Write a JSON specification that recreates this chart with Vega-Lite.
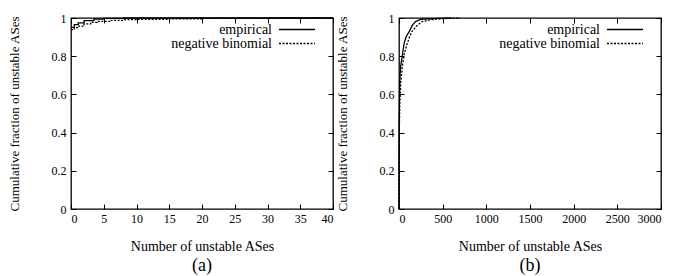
{
  "$schema": "https://vega.github.io/schema/vega-lite/v6.json",
  "padding": {"left": 7, "top": 11, "right": 5, "bottom": 2},
  "background": "white",
  "bounds": "flush",
  "spacing": 66,
  "config": {
    "font": "Liberation Serif",
    "view": {"stroke": "black", "strokeWidth": 1.3},
    "axis": {"grid": false, "domain": false, "tickColor": "black", "tickSize": -5, "labelColor": "black", "labelFont": "Liberation Serif", "labelFontSize": 12, "titleFont": "Liberation Serif", "titleFontSize": 14, "titleFontWeight": "normal", "titleColor": "black"},
    "axisY": {"titleFontSize": 13},
    "legend": {"labelFont": "Liberation Serif", "labelFontSize": 14, "labelColor": "black"},
    "title": {"font": "Liberation Serif", "fontSize": 18, "fontWeight": "normal", "color": "black"}
  },
  "datasets": {
    "a": [
      {"n": 0, "frac": 0.951, "series": "empirical"},
      {"n": 0.5, "frac": 0.965, "series": "empirical"},
      {"n": 1.1, "frac": 0.975, "series": "empirical"},
      {"n": 2, "frac": 0.986, "series": "empirical"},
      {"n": 3.5, "frac": 0.994, "series": "empirical"},
      {"n": 5, "frac": 0.998, "series": "empirical"},
      {"n": 8, "frac": 1.0, "series": "empirical"},
      {"n": 40, "frac": 1.0, "series": "empirical"},
      {"n": 0, "frac": 0.939, "series": "negative binomial"},
      {"n": 0.5, "frac": 0.95, "series": "negative binomial"},
      {"n": 1, "frac": 0.957, "series": "negative binomial"},
      {"n": 2, "frac": 0.969, "series": "negative binomial"},
      {"n": 3, "frac": 0.977, "series": "negative binomial"},
      {"n": 4, "frac": 0.982, "series": "negative binomial"},
      {"n": 6, "frac": 0.988, "series": "negative binomial"},
      {"n": 8, "frac": 0.991, "series": "negative binomial"},
      {"n": 10, "frac": 0.993, "series": "negative binomial"},
      {"n": 15, "frac": 0.996, "series": "negative binomial"},
      {"n": 20, "frac": 0.998, "series": "negative binomial"},
      {"n": 30, "frac": 1.0, "series": "negative binomial"},
      {"n": 40, "frac": 1.0, "series": "negative binomial"}
    ],
    "b": [
      {"n": 0, "frac": 0.0, "series": "empirical"},
      {"n": 1, "frac": 0.35, "series": "empirical"},
      {"n": 3, "frac": 0.5, "series": "empirical"},
      {"n": 6, "frac": 0.62, "series": "empirical"},
      {"n": 12, "frac": 0.7, "series": "empirical"},
      {"n": 20, "frac": 0.75, "series": "empirical"},
      {"n": 40, "frac": 0.81, "series": "empirical"},
      {"n": 60, "frac": 0.87, "series": "empirical"},
      {"n": 85, "frac": 0.905, "series": "empirical"},
      {"n": 115, "frac": 0.927, "series": "empirical"},
      {"n": 150, "frac": 0.96, "series": "empirical"},
      {"n": 190, "frac": 0.982, "series": "empirical"},
      {"n": 250, "frac": 0.993, "series": "empirical"},
      {"n": 400, "frac": 0.997, "series": "empirical"},
      {"n": 600, "frac": 1.0, "series": "empirical"},
      {"n": 0, "frac": 0.0, "series": "negative binomial"},
      {"n": 2, "frac": 0.3, "series": "negative binomial"},
      {"n": 5, "frac": 0.45, "series": "negative binomial"},
      {"n": 10, "frac": 0.56, "series": "negative binomial"},
      {"n": 20, "frac": 0.66, "series": "negative binomial"},
      {"n": 38, "frac": 0.745, "series": "negative binomial"},
      {"n": 60, "frac": 0.81, "series": "negative binomial"},
      {"n": 90, "frac": 0.86, "series": "negative binomial"},
      {"n": 120, "frac": 0.9, "series": "negative binomial"},
      {"n": 145, "frac": 0.927, "series": "negative binomial"},
      {"n": 200, "frac": 0.958, "series": "negative binomial"},
      {"n": 260, "frac": 0.98, "series": "negative binomial"},
      {"n": 350, "frac": 0.99, "series": "negative binomial"},
      {"n": 500, "frac": 0.997, "series": "negative binomial"},
      {"n": 700, "frac": 1.0, "series": "negative binomial"}
    ]
  },
  "resolve": {"scale": {"x": "independent", "strokeDash": "independent"}, "legend": {"strokeDash": "independent"}},
  "hconcat": [
    {
      "width": 262,
      "height": 191,
      "title": {"text": "(a)", "orient": "bottom", "offset": 4},
      "data": {"name": "a"},
      "resolve": {"axis": {"x": "independent", "y": "independent"}},
      "layer": [
        {
          "mark": {"type": "line", "interpolate": "step-after", "color": "black", "strokeWidth": 1.3},
          "encoding": {
            "x": {"field": "n", "type": "quantitative", "scale": {"domain": [0, 40], "nice": false}, "axis": {"orient": "bottom", "values": [0, 5, 10, 15, 20, 25, 30, 35, 40], "format": "d", "title": "Number of unstable ASes", "labelPadding": 9, "titlePadding": 15}},
            "y": {"field": "frac", "type": "quantitative", "scale": {"domain": [0, 1], "nice": false}, "axis": {"orient": "left", "values": [0, 0.2, 0.4, 0.6, 0.8, 1], "format": "~g", "title": "Cumulative fraction of unstable ASes", "labelPadding": 10, "titlePadding": 30}},
            "strokeDash": {"field": "series", "type": "nominal", "scale": {"domain": ["empirical", "negative binomial"], "range": [[1, 0], [2, 1.5]]}, "legend": {"title": null, "orient": "none", "legendX": 219, "legendY": 4.5, "symbolType": "M-3.6,0H3.6", "symbolSize": 100, "symbolStrokeColor": "black", "symbolStrokeWidth": 1.3, "labelAlign": "right", "labelOffset": -32, "rowPadding": -1}}
          }
        },
        {
          "mark": {"type": "line", "opacity": 0},
          "encoding": {
            "x": {"field": "n", "type": "quantitative", "axis": {"orient": "top", "values": [0, 5, 10, 15, 20, 25, 30, 35, 40], "labels": false, "title": null}},
            "y": {"field": "frac", "type": "quantitative", "axis": {"orient": "right", "values": [0, 0.2, 0.4, 0.6, 0.8, 1], "labels": false, "title": null}}
          }
        }
      ]
    },
    {
      "width": 262,
      "height": 191,
      "title": {"text": "(b)", "orient": "bottom", "offset": 4},
      "data": {"name": "b"},
      "resolve": {"axis": {"x": "independent", "y": "independent"}},
      "layer": [
        {
          "mark": {"type": "line", "color": "black", "strokeWidth": 1.3},
          "encoding": {
            "x": {"field": "n", "type": "quantitative", "scale": {"domain": [0, 3000], "nice": false}, "axis": {"orient": "bottom", "values": [0, 500, 1000, 1500, 2000, 2500, 3000], "format": "d", "title": "Number of unstable ASes", "labelPadding": 9, "titlePadding": 15}},
            "y": {"field": "frac", "type": "quantitative", "scale": {"domain": [0, 1], "nice": false}, "axis": {"orient": "left", "values": [0, 0.2, 0.4, 0.6, 0.8, 1], "format": "~g", "title": "Cumulative fraction of unstable ASes", "labelPadding": 10, "titlePadding": 30}},
            "strokeDash": {"field": "series", "type": "nominal", "scale": {"domain": ["empirical", "negative binomial"], "range": [[1, 0], [2, 1.5]]}, "legend": {"title": null, "orient": "none", "legendX": 219, "legendY": 4.5, "symbolType": "M-3.6,0H3.6", "symbolSize": 100, "symbolStrokeColor": "black", "symbolStrokeWidth": 1.3, "labelAlign": "right", "labelOffset": -32, "rowPadding": -1}}
          }
        },
        {
          "mark": {"type": "line", "opacity": 0},
          "encoding": {
            "x": {"field": "n", "type": "quantitative", "axis": {"orient": "top", "values": [0, 500, 1000, 1500, 2000, 2500, 3000], "labels": false, "title": null}},
            "y": {"field": "frac", "type": "quantitative", "axis": {"orient": "right", "values": [0, 0.2, 0.4, 0.6, 0.8, 1], "labels": false, "title": null}}
          }
        }
      ]
    }
  ]
}
